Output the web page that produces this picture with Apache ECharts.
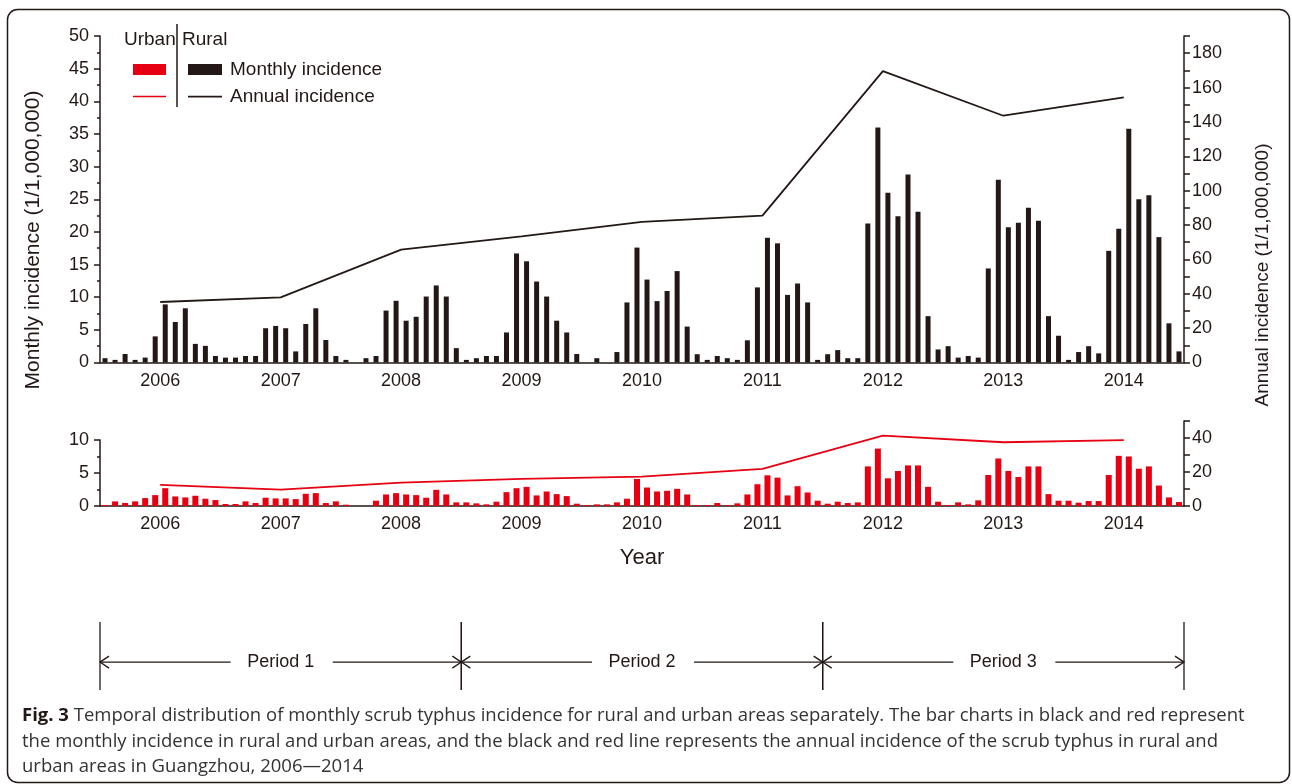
<!DOCTYPE html>
<html>
<head>
<meta charset="utf-8">
<script src="https://cdn.jsdelivr.net/npm/echarts@6/dist/echarts.min.js"></script>
<style>
  html, body { margin: 0; padding: 0; background: #fff; }
  #chart { width: 1292px; height: 784px; }
</style>
</head>
<body>
<div id="chart"></div>
<script>
const years = ['2006', '2007', '2008', '2009', '2010', '2011', '2012', '2013', '2014'];

// monthly incidence (1/1,000,000), one row per year, Jan..Dec
const ruralMonthly = [
  0.66, 0.4, 1.3, 0.4, 0.75, 4.0, 8.9, 6.2, 8.3, 2.85, 2.55, 1.0,
  0.75, 0.75, 1.0, 1.0, 5.25, 5.6, 5.25, 1.7, 5.9, 8.3, 3.45, 1.0,
  0.4, 0, 0.66, 1.0, 7.95, 9.45, 6.4, 7.0, 10.1, 11.8, 10.1, 2.2,
  0.4, 0.66, 1.0, 1.0, 4.6, 16.7, 15.5, 12.4, 10.1, 6.4, 4.6, 1.3,
  0, 0.66, 0, 1.6, 9.2, 17.6, 12.7, 9.4, 10.95, 14.0, 5.5, 1.27,
  0.4, 1.0, 0.66, 0.4, 3.4, 11.5, 19.1, 18.25, 10.35, 12.1, 9.2, 0.4,
  1.27, 1.9, 0.66, 0.66, 21.3, 36.0, 26.0, 22.4, 28.8, 23.1, 7.1, 2.0,
  2.5, 0.75, 1.0, 0.75, 14.4, 28.0, 20.7, 21.4, 23.7, 21.7, 7.1, 4.1,
  0.4, 1.6, 2.5, 1.4, 17.1, 20.5, 35.8, 25.0, 25.6, 19.2, 6.0, 1.7
];
const urbanMonthly = [
  0.15, 0.7, 0.45, 0.7, 1.2, 1.65, 2.7, 1.45, 1.3, 1.55, 1.1, 0.9,
  0.3, 0.3, 0.7, 0.45, 1.25, 1.15, 1.15, 1.05, 1.85, 1.95, 0.45, 0.7,
  0.2, 0, 0, 0.8, 1.75, 1.95, 1.75, 1.65, 1.25, 2.45, 1.75, 0.55,
  0.55, 0.4, 0.25, 0.65, 2.1, 2.7, 2.9, 1.6, 2.2, 1.8, 1.5, 0.35,
  0.15, 0.25, 0.25, 0.55, 1.1, 4.1, 2.8, 2.2, 2.3, 2.6, 1.75, 0.15,
  0.15, 0.45, 0.15, 0.4, 1.75, 3.3, 4.65, 4.3, 1.6, 3.0, 2.05, 0.8,
  0.35, 0.65, 0.45, 0.55, 6.0, 8.7, 4.2, 5.3, 6.15, 6.15, 2.9, 0.65,
  0.15, 0.55, 0.25, 0.85, 4.7, 7.2, 5.3, 4.4, 6.0, 6.0, 1.8, 0.8,
  0.8, 0.5, 0.75, 0.75, 4.7, 7.6, 7.5, 5.65, 6.0, 3.1, 1.3, 0.6
];

// annual incidence (1/1,000,000)
const ruralAnnual = [35.2, 37.9, 65.7, 73.4, 81.8, 85.5, 169.6, 143.6, 154.3];
const urbanAnnual = [12.4, 9.6, 13.8, 15.9, 17.3, 21.8, 41.4, 37.5, 38.8];

// periods, in years from the start of 2006
const periodNames = ['Period 1', 'Period 2', 'Period 3'];
const periodStart = [0, 3, 6];
const periodEnd = [3, 6, 9];

const months = [];
years.forEach(y => { for (let m = 1; m <= 12; m++) months.push(y + '-' + m); });

const INK = '#231815';
const RED = '#e60012';
const FONT = 'Arial, "Liberation Sans", sans-serif';
// thin line icon for the annual series in the legend (bbox kept at 34x11)
const LINE_ICON = 'path://M0,0 L0,0 Z M0,4.8 L34,4.8 L34,6.4 L0,6.4 Z M34,11 L34,11 Z';

const chart = echarts.init(document.getElementById('chart'));

const yearAxis = (grid, margin, tickLen, extra) => Object.assign({
  type: 'category', gridIndex: grid, data: years, position: 'bottom',
  axisLine: { lineStyle: { color: INK, width: 1.5 } },
  axisTick: { length: tickLen, lineStyle: { color: INK, width: 1.5 } },
  axisLabel: { color: INK, fontSize: 18, fontFamily: FONT, margin: margin }
}, extra || {});

const monthAxis = grid => ({
  type: 'category', gridIndex: grid, data: months, show: false
});

const valueAxis = (grid, pos, max, interval, opts) => Object.assign({
  type: 'value', gridIndex: grid, position: pos, min: 0, max: max, interval: interval,
  splitLine: { show: false },
  axisLine: { show: true, lineStyle: { color: INK, width: 1.5 } },
  axisTick: { show: true, length: 6, lineStyle: { color: INK, width: 1.5 } },
  axisLabel: { color: INK, fontSize: 18, fontFamily: FONT, margin: 11 }
}, opts || {});

const option = {
  animation: false,
  textStyle: { fontFamily: FONT },
  grid: [
    { left: 100, right: 108, top: 36, height: 326.5 },
    { left: 100, right: 108, top: 440, height: 66 },
    { left: 100, right: 108, top: 421, height: 85 },
    { left: 100, right: 108, top: 622, height: 68 }
  ],
  xAxis: [
    monthAxis(0),
    yearAxis(0, 10, 17),
    monthAxis(1),
    yearAxis(1, 9, 15, {
      name: 'Year', nameLocation: 'middle', nameGap: 41,
      nameTextStyle: { color: INK, fontSize: 22, fontFamily: FONT }
    }),
    { type: 'category', gridIndex: 2, data: years, show: false },
    { type: 'value', gridIndex: 3, min: 0, max: 9, show: false }
  ],
  yAxis: [
    valueAxis(0, 'left', 50, 5, {
      minorTick: { show: true, splitNumber: 2, length: 3, lineStyle: { color: INK, width: 1.5 } }
    }),
    valueAxis(0, 'right', 190, 10, {
      axisLabel: {
        color: INK, fontSize: 18, fontFamily: FONT, margin: 8,
        formatter: v => (v % 20 === 0 && v < 190) ? String(v) : ''
      }
    }),
    valueAxis(1, 'left', 10, 5, {
      minorTick: { show: true, splitNumber: 2, length: 3, lineStyle: { color: INK, width: 1.5 } }
    }),
    valueAxis(2, 'right', 50, 10, {
      axisLabel: {
        color: INK, fontSize: 18, fontFamily: FONT, margin: 8,
        formatter: v => (v % 20 === 0 && v < 50) ? String(v) : ''
      }
    }),
    { type: 'value', gridIndex: 3, min: 0, max: 1, show: false }
  ],
  legend: [
    {
      data: [
        { name: 'Urban monthly incidence', icon: 'rect' },
        { name: 'Urban annual incidence', icon: LINE_ICON }
      ],
      orient: 'vertical', left: 128, top: 55, selectedMode: false,
      itemWidth: 33, itemHeight: 11, itemGap: 8,
      formatter: () => ' ',
      textStyle: { fontSize: 19, lineHeight: 19 }
    },
    {
      data: [
        { name: 'Monthly incidence', icon: 'rect' },
        { name: 'Annual incidence', icon: LINE_ICON }
      ],
      orient: 'vertical', left: 183, top: 55, selectedMode: false,
      itemWidth: 34, itemHeight: 11, itemGap: 8,
      textStyle: { color: INK, fontSize: 19, lineHeight: 19, fontFamily: FONT, padding: [0, 0, 0, 3] }
    }
  ],
  series: [
    {
      name: 'Monthly incidence', type: 'bar', xAxisIndex: 0, yAxisIndex: 0,
      data: ruralMonthly, barWidth: 5, itemStyle: { color: INK }
    },
    {
      name: 'Annual incidence', type: 'line', xAxisIndex: 1, yAxisIndex: 1,
      data: ruralAnnual, symbol: 'none', lineStyle: { color: INK, width: 1.8 },
      itemStyle: { color: INK }
    },
    {
      name: 'Urban monthly incidence', type: 'bar', xAxisIndex: 2, yAxisIndex: 2,
      data: urbanMonthly, barWidth: 6, itemStyle: { color: RED }
    },
    {
      name: 'Urban annual incidence', type: 'line', xAxisIndex: 4, yAxisIndex: 3,
      data: urbanAnnual, symbol: 'none', lineStyle: { color: RED, width: 1.8 },
      itemStyle: { color: RED }
    },
    {
      name: 'periods', type: 'custom', xAxisIndex: 5, yAxisIndex: 4,
      data: periodStart.map((s, i) => [s, periodEnd[i]]),
      encode: { x: [0, 1] },
      silent: true,
      renderItem: (params, api) => {
        const x0 = api.coord([api.value(0), 0])[0];
        const x1 = api.coord([api.value(1), 0])[0];
        const yBot = api.coord([0, 0])[1];
        const yTop = api.coord([0, 1])[1];
        const y = yBot - (yBot - yTop) * 0.41;
        const xm = (x0 + x1) / 2;
        const st = { stroke: INK, lineWidth: 1.3, fill: null };
        return {
          type: 'group',
          children: [
            { type: 'line', shape: { x1: x0, y1: yTop, x2: x0, y2: yBot }, style: st },
            { type: 'line', shape: { x1: x1, y1: yTop, x2: x1, y2: yBot }, style: st },
            { type: 'line', shape: { x1: x0, y1: y, x2: xm - 50, y2: y }, style: st },
            { type: 'line', shape: { x1: xm + 52, y1: y, x2: x1, y2: y }, style: st },
            { type: 'polyline', shape: { points: [[x0 + 9, y - 6], [x0, y], [x0 + 9, y + 6]] }, style: st },
            { type: 'polyline', shape: { points: [[x1 - 9, y - 6], [x1, y], [x1 - 9, y + 6]] }, style: st },
            {
              type: 'text', x: xm, y: y,
              style: {
                text: periodNames[params.dataIndex], fill: INK, fontSize: 18, fontFamily: FONT,
                align: 'center', verticalAlign: 'middle'
              }
            }
          ]
        };
      }
    }
  ],
  graphic: [
    {
      type: 'rect', z: -1, silent: true,
      shape: { x: 7.5, y: 9.5, width: 1282, height: 773, r: 10 },
      style: { stroke: INK, lineWidth: 1.5, fill: null }
    },
    {
      type: 'text', left: 124, top: 30,
      style: { text: 'Urban', fill: INK, fontSize: 19, fontFamily: FONT }
    },
    {
      type: 'text', left: 182, top: 30,
      style: { text: 'Rural', fill: INK, fontSize: 19, fontFamily: FONT }
    },
    {
      type: 'line', shape: { x1: 177, y1: 24, x2: 177, y2: 107 },
      style: { stroke: INK, lineWidth: 1.5 }
    },
    {
      type: 'text', x: 33, y: 240, rotation: Math.PI / 2,
      style: {
        text: 'Monthly incidence (1/1,000,000)', fill: INK, fontSize: 21, fontFamily: FONT,
        align: 'center', verticalAlign: 'middle'
      }
    },
    {
      type: 'text', x: 1263, y: 275, rotation: Math.PI / 2,
      style: {
        text: 'Annual incidence (1/1,000,000)', fill: INK, fontSize: 19, fontFamily: FONT,
        align: 'center', verticalAlign: 'middle'
      }
    },
    {
      type: 'text', left: 22, top: 703,
      style: {
        text: '{b|Fig. 3} Temporal distribution of monthly scrub typhus incidence for rural and urban areas separately. The bar charts in black and red represent\n' +
              'the monthly incidence in rural and urban areas, and the black and red line represents the annual incidence of the scrub typhus in rural and\n' +
              'urban areas in Guangzhou, 2006\u20142014',
        fill: '#333', fontSize: 18.5, lineHeight: 25.5, fontFamily: '"Open Sans", sans-serif',
        rich: { b: { fontWeight: 'bold', fontSize: 18.5, lineHeight: 25.5, fontFamily: '"Open Sans", sans-serif', fill: INK } }
      }
    }
  ]
};

chart.setOption(option);
window.addEventListener('resize', () => chart.resize());
</script>
</body>
</html>
